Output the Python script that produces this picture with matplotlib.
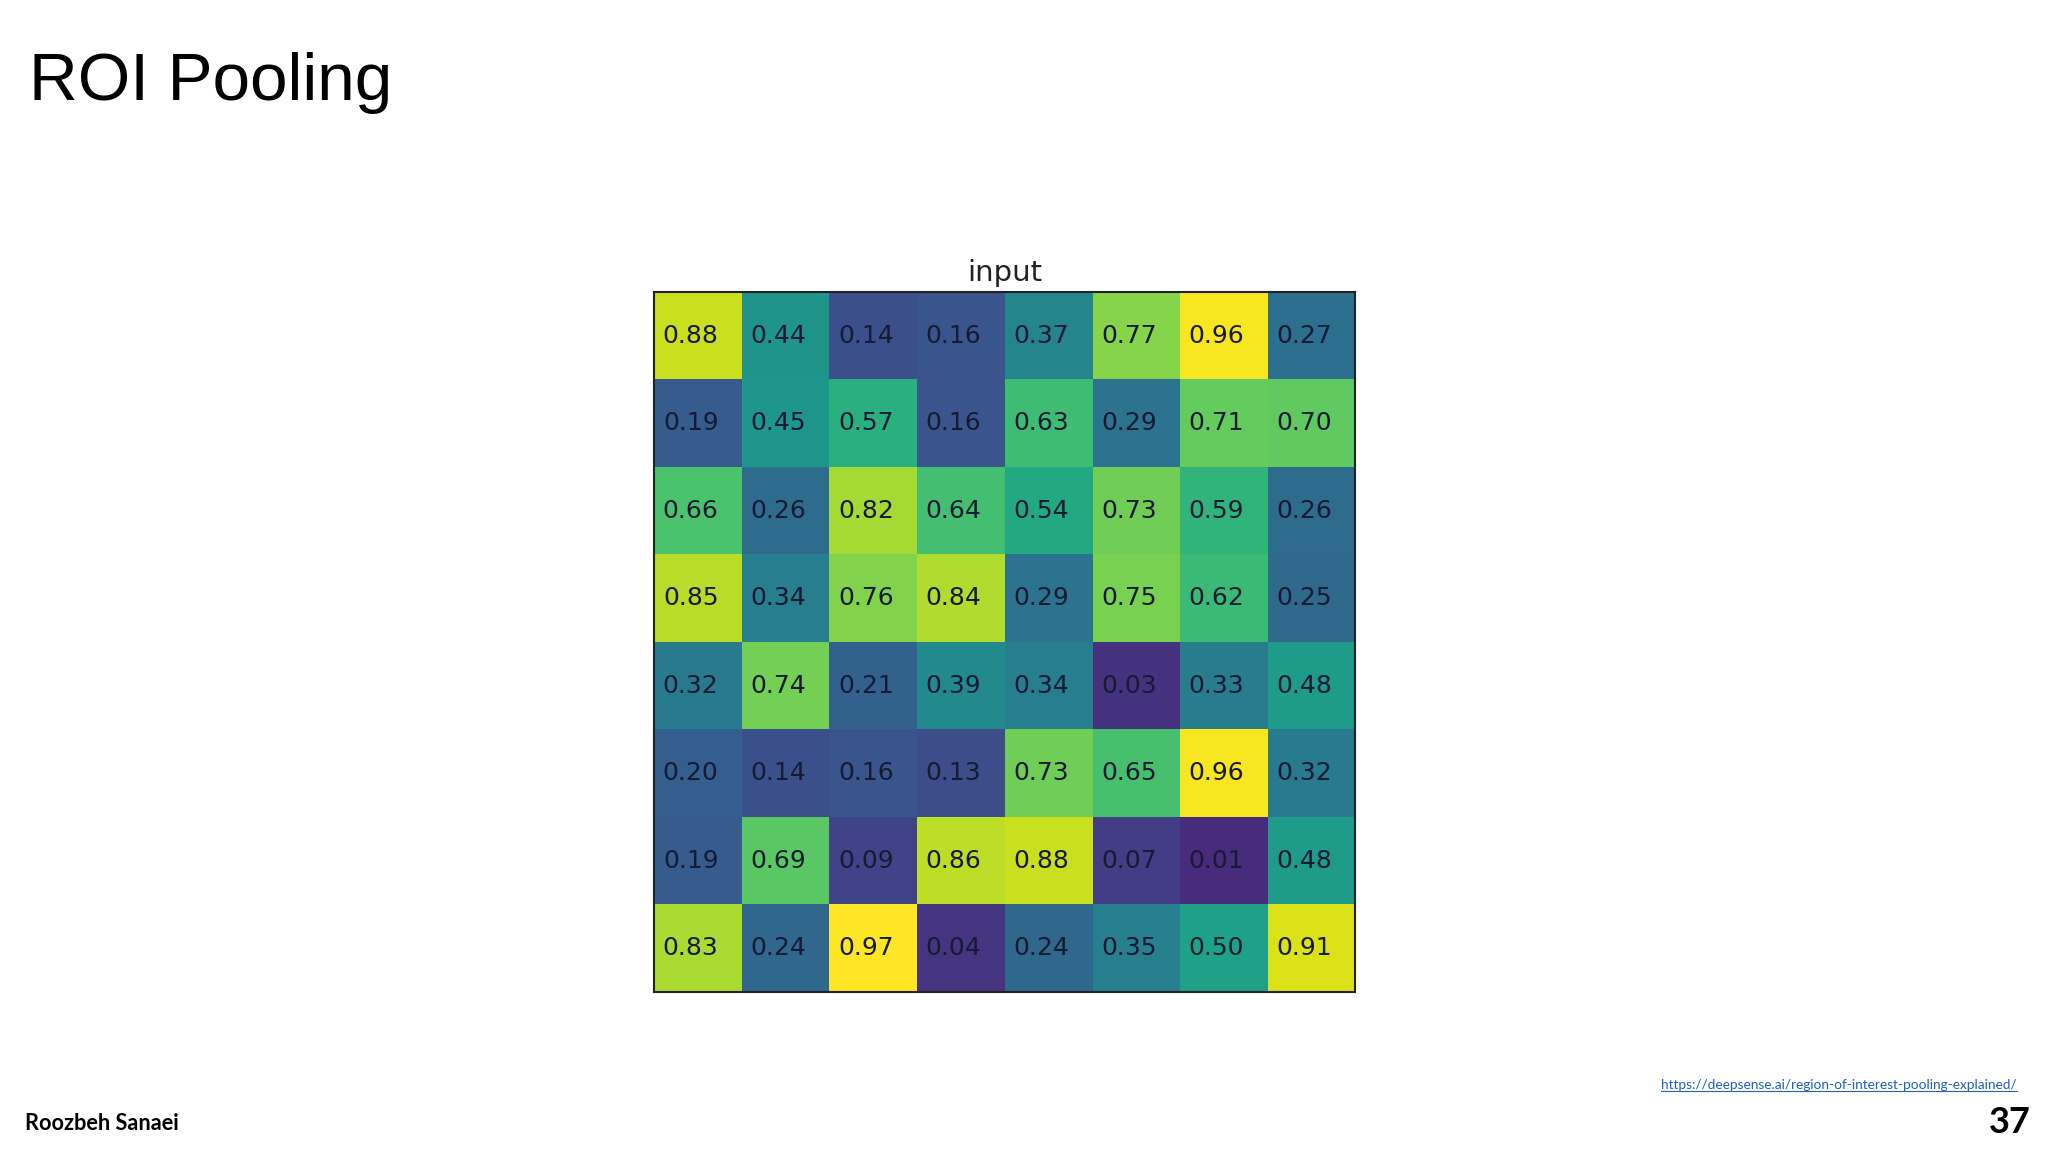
import matplotlib
matplotlib.use('Agg')
import matplotlib.pyplot as plt
import numpy as np

# values in the grid, row by row
values = np.array([
    [0.88, 0.44, 0.14, 0.16, 0.37, 0.77, 0.96, 0.27],
    [0.19, 0.45, 0.57, 0.16, 0.63, 0.29, 0.71, 0.70],
    [0.66, 0.26, 0.82, 0.64, 0.54, 0.73, 0.59, 0.26],
    [0.85, 0.34, 0.76, 0.84, 0.29, 0.75, 0.62, 0.25],
    [0.32, 0.74, 0.21, 0.39, 0.34, 0.03, 0.33, 0.48],
    [0.20, 0.14, 0.16, 0.13, 0.73, 0.65, 0.96, 0.32],
    [0.19, 0.69, 0.09, 0.86, 0.88, 0.07, 0.01, 0.48],
    [0.83, 0.24, 0.97, 0.04, 0.24, 0.35, 0.50, 0.91],
])
title = 'ROI Pooling'
plot_title = 'input'
author = 'Roozbeh Sanaei'
page = '37'
url = 'https://deepsense.ai/region-of-interest-pooling-explained/'

fig = plt.figure(figsize=(20.48, 11.52), dpi=100)
fig.patch.set_facecolor('white')

ax = fig.add_axes([0.3193, 0.1389, 0.3423, 0.6076])
# the low end of the colour scale looks lifted in the source picture
ax.imshow(values, cmap='viridis', vmin=-0.13, vmax=0.97, aspect='auto')
for i in range(values.shape[0]):
    for j in range(values.shape[1]):
        ax.text(j - 0.08, i, f'{values[i, j]:.2f}', ha='center', va='center',
                fontsize=18, color='#161a33', family='DejaVu Sans')
ax.set_xticks([])
ax.set_yticks([])
for s in ax.spines.values():
    s.set_linewidth(1.5)
    s.set_color('#222222')
ax.set_title(plot_title, fontsize=21, family='DejaVu Sans', pad=8, color='#222222')

# slide texts
fig.text(29 / 2048, 1 - 100 / 1152, title, fontsize=48.5, family='Liberation Sans',
         ha='left', va='baseline')
fig.text(25 / 2048, 1 - 1130 / 1152, author, fontsize=15.7, family='Lato',
         fontweight='bold', ha='left', va='baseline')
fig.text(2031 / 2048, 1 - 1133 / 1152, page, fontsize=26, family='Lato',
         fontweight='bold', ha='right', va='baseline')
t = fig.text(2017 / 2048, 1 - 1089 / 1152, url, fontsize=9.85, family='Lato',
             color='#1F5FBF', ha='right', va='baseline')

# underline the link
fig.canvas.draw()
bb = t.get_window_extent().transformed(fig.transFigure.inverted())
y_line = 1 - 1091 / 1152
fig.add_artist(plt.Line2D([bb.x0, bb.x1], [y_line, y_line], transform=fig.transFigure,
                          color='#1F5FBF', lw=0.8))

fig.savefig('out.png', dpi=100)
